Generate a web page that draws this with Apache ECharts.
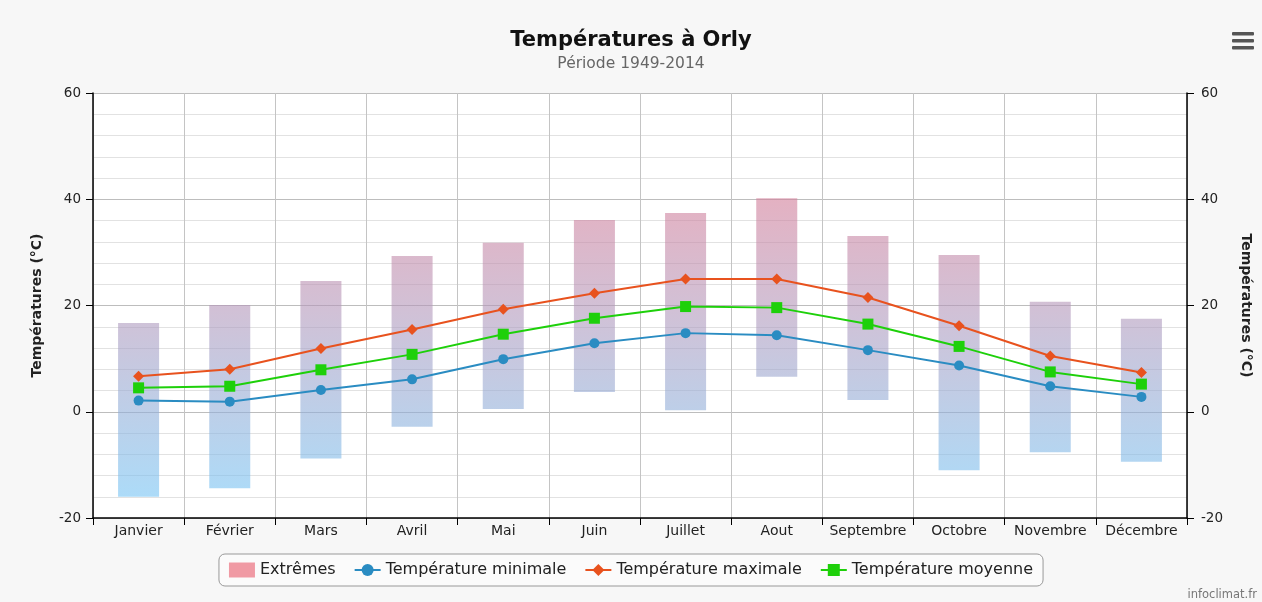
<!DOCTYPE html>
<html>
<head>
<meta charset="utf-8">
<script src="https://cdn.jsdelivr.net/npm/echarts@6/dist/echarts.min.js"></script>
<style>
html,body{margin:0;padding:0;background:#f7f7f7;}
#chart{width:1262px;height:602px;}
</style>
</head>
<body>
<div id="chart"></div>
<script>
const months = ['Janvier','Février','Mars','Avril','Mai','Juin','Juillet','Aout','Septembre','Octobre','Novembre','Décembre'];
const extremeMin = [-16, -14.4, -8.8, -2.8, 0.5, 3.7, 0.3, 6.6, 2.2, -11.0, -7.6, -9.4];
const extremeMax = [16.7, 20.1, 24.6, 29.3, 31.8, 36.1, 37.4, 40.2, 33.1, 29.5, 20.7, 17.5];
const tempMin = [2.1, 1.9, 4.1, 6.1, 9.9, 12.9, 14.8, 14.4, 11.6, 8.7, 4.8, 2.8];
const tempMax = [6.7, 8.0, 11.9, 15.5, 19.3, 22.3, 25.0, 25.0, 21.5, 16.2, 10.5, 7.4];
const tempMoy = [4.5, 4.8, 7.9, 10.8, 14.6, 17.6, 19.8, 19.6, 16.5, 12.3, 7.5, 5.2];
const yTicks = [-20, 0, 20, 40, 60];

const FONT = 'DejaVu Sans';
const chart = echarts.init(document.getElementById('chart'), null, {renderer:'canvas'});

const extremesData = months.map((m,i)=>[i, extremeMin[i], extremeMax[i]]);

const option = {
  backgroundColor: '#f7f7f7',
  textStyle: {fontFamily: FONT},
  title: {
    text: 'Températures à Orly',
    subtext: 'Période 1949-2014',
    left: 'center',
    top: 25,
    itemGap: 5,
    textStyle: {fontFamily: FONT, fontSize: 21, fontWeight: 'bold', color: '#111'},
    subtextStyle: {fontFamily: FONT, fontSize: 15.5, color: '#666'}
  },
  legend: {
    bottom: 16,
    left: 'center',
    borderColor: '#999',
    borderWidth: 1,
    borderRadius: 6,
    backgroundColor: '#fbfbfb',
    padding: [8, 10, 8, 10],
    itemGap: 18,
    itemWidth: 26,
    itemHeight: 15,
    textStyle: {fontFamily: FONT, fontSize: 16, color: '#222'},
    data: [
      {name: 'Extrêmes', icon: 'rect', itemStyle: {color: '#f09aa4'}},
      'Température minimale', 'Température maximale', 'Température moyenne'
    ]
  },
  grid: {left: 93, right: 75, top: 93, bottom: 84, show: true, backgroundColor: '#ffffff', borderWidth: 0},
  xAxis: {
    type: 'category',
    data: months,
    boundaryGap: true,
    axisLine: {show: true, onZero: false, lineStyle: {color: '#000', width: 1.5}},
    axisTick: {show: true, interval: 0, length: 7, lineStyle: {color: '#000'}},
    axisLabel: {fontFamily: FONT, fontSize: 14, color: '#222', margin: 6, interval: 0, hideOverlap: false},
    splitLine: {show: true, interval: 0, lineStyle: {color: '#c4c4c4', width: 1}}
  },
  yAxis: [
    {
      type: 'value', min: -20, max: 60, interval: 20,
      position: 'left',
      name: 'Températures (°C)', nameLocation: 'middle', nameRotate: 90, nameGap: 49,
      nameTextStyle: {fontFamily: FONT, fontSize: 14, fontWeight: 'bold', color: '#222'},
      axisLine: {show: true, lineStyle: {color: '#000', width: 1.5}},
      axisTick: {show: true, length: 7, lineStyle: {color: '#000'}},
      axisLabel: {fontFamily: FONT, fontSize: 13.5, color: '#222', margin: 12,
        formatter: v => yTicks.includes(v) ? String(v) : ''},
      splitLine: {show: true, lineStyle: {color: '#bdbdbd', width: 1}},
      minorTick: {show: false, splitNumber: 5},
      minorSplitLine: {show: true, lineStyle: {color: '#e2e2e2', width: 1}}
    },
    {
      type: 'value', min: -20, max: 60, interval: 20,
      position: 'right',
      name: 'Températures (°C)', nameLocation: 'middle', nameRotate: -90, nameGap: 52,
      nameTextStyle: {fontFamily: FONT, fontSize: 14, fontWeight: 'bold', color: '#222'},
      axisLine: {show: true, lineStyle: {color: '#000', width: 1.5}},
      axisTick: {show: true, length: 7, lineStyle: {color: '#000'}},
      axisLabel: {fontFamily: FONT, fontSize: 13.5, color: '#222', margin: 14},
      splitLine: {show: false}
    }
  ],
  series: [
    {
      name: 'Extrêmes',
      type: 'custom',
      z: 1,
      data: extremesData,
      encode: {x: 0, y: [1, 2]},
      renderItem: function (params, api) {
        const i = api.value(0);
        const lo = api.coord([i, api.value(1)]);
        const hi = api.coord([i, api.value(2)]);
        const bw = api.size([1, 0])[0] * 0.45;
        const top = api.coord([i, 60])[1];
        const bot = api.coord([i, -20])[1];
        const grad = new echarts.graphic.LinearGradient(0, top, 0, bot, [
          {offset: 0, color: 'rgba(240,105,125,0.62)'},
          {offset: 0.5, color: 'rgba(180,150,185,0.6)'},
          {offset: 1, color: 'rgba(110,200,250,0.6)'}
        ], true);
        return {
          type: 'rect',
          shape: {x: hi[0] - bw / 2, y: hi[1], width: bw, height: lo[1] - hi[1]},
          style: {fill: grad}
        };
      }
    },
    {
      name: 'Température minimale',
      type: 'line', z: 3,
      data: tempMin,
      color: '#2a8cc2',
      symbol: 'circle', symbolSize: 10,
      lineStyle: {width: 2, color: '#2a8cc2'},
      itemStyle: {color: '#2a8cc2'}
    },
    {
      name: 'Température maximale',
      type: 'line', z: 3,
      data: tempMax,
      color: '#e8521e',
      symbol: 'diamond', symbolSize: 11,
      lineStyle: {width: 2, color: '#e8521e'},
      itemStyle: {color: '#e8521e'}
    },
    {
      name: 'Température moyenne',
      type: 'line', z: 4,
      data: tempMoy,
      color: '#1ed00a',
      symbol: 'rect', symbolSize: 11,
      lineStyle: {width: 2, color: '#1ed00a'},
      itemStyle: {color: '#1ed00a'}
    }
  ],
  graphic: [
    {type: 'rect', left: 1232, top: 32, shape: {width: 22, height: 3.5, r: 1}, style: {fill: '#555'}},
    {type: 'rect', left: 1232, top: 39, shape: {width: 22, height: 3.5, r: 1}, style: {fill: '#555'}},
    {type: 'rect', left: 1232, top: 46, shape: {width: 22, height: 3.5, r: 1}, style: {fill: '#555'}},
    {type: 'text', right: 5, bottom: 1, style: {text: 'infoclimat.fr', fontFamily: FONT, fontSize: 11.5, fill: '#777'}}
  ]
};
chart.setOption(option);
</script>
</body>
</html>
